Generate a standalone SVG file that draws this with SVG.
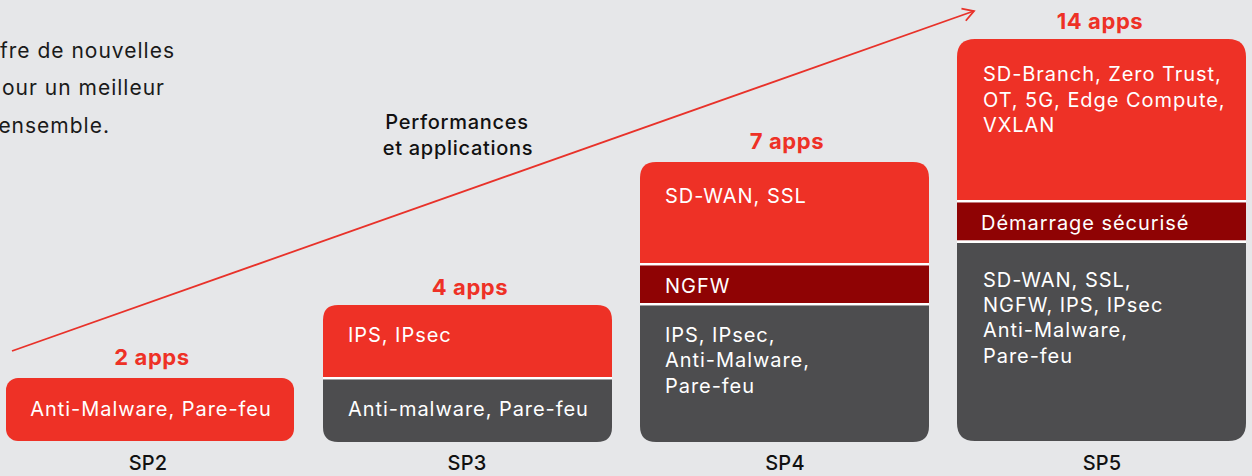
<svg xmlns="http://www.w3.org/2000/svg" width="1252" height="476" viewBox="0 0 1252 476">
<defs>
<style>
.bg{fill:#e6e7e9}
.red{fill:#ee3126}
.dred{fill:#8f0304}
.grey{fill:#4d4d4f}
.sep{fill:#ffffff}
.t{font-family:Inter,"Liberation Sans",sans-serif;font-size:20px;letter-spacing:0.95px;fill:#ffffff}
.apps{font-family:Inter,"Liberation Sans",sans-serif;font-size:22px;letter-spacing:0.6px;font-weight:700;fill:#ee3126;text-anchor:middle}
.sp{font-family:Inter,"Liberation Sans",sans-serif;font-size:20px;letter-spacing:0.2px;font-weight:500;fill:#111111;text-anchor:middle}
.intro{font-family:Inter,"Liberation Sans",sans-serif;font-size:21px;letter-spacing:1px;fill:#1a1a1a;text-anchor:end}
.lbl{font-family:Inter,"Liberation Sans",sans-serif;font-size:20px;letter-spacing:0.7px;font-weight:500;fill:#111111;text-anchor:middle}
.conn{stroke:#e8322a;stroke-width:1.8;fill:none}
</style>
<marker id="chev" markerUnits="userSpaceOnUse" markerWidth="16" markerHeight="16" refX="13" refY="8" orient="auto">
<path d="M2,1.5 L13,8 L2,14.5" fill="none" stroke="#e8322a" stroke-width="1.8"/>
</marker>
</defs>
<rect class="bg" x="0" y="0" width="1252" height="476"/>

<g id="intro-text">
<text class="intro" x="175" y="58">fre de nouvelles</text>
<text class="intro" x="165" y="95">our un meilleur</text>
<text class="intro" x="110" y="133">ensemble.</text>
</g>

<g id="connectors">
<line class="conn" x1="12" y1="351" x2="974" y2="11" marker-end="url(#chev)"/>
</g>

<g id="axis-label">
<text class="lbl" x="457" y="129">Performances</text>
<text class="lbl" x="458" y="155">et applications</text>
</g>

<g id="sp2">
<rect class="red" x="6" y="378" width="288" height="63" rx="12"/>
<text class="t" x="151" y="416" text-anchor="middle">Anti-Malware, Pare-feu</text>
<text class="apps" x="152" y="365">2 apps</text>
<text class="sp" x="148" y="470">SP2</text>
</g>

<g id="sp3">
<path class="red" d="M323,378 V320 Q323,305 338,305 H597 Q612,305 612,320 V378 Z"/>
<rect class="sep" x="323" y="377" width="289" height="2.5"/>
<path class="grey" d="M323,379.5 H612 V427 Q612,442 597,442 H338 Q323,442 323,427 Z"/>
<text class="t" x="348" y="342">IPS, IPsec</text>
<text class="t" x="348" y="416">Anti-malware, Pare-feu</text>
<text class="apps" x="470" y="295">4 apps</text>
<text class="sp" x="467" y="470">SP3</text>
</g>

<g id="sp4">
<path class="red" d="M640,263 V178 Q640,162 656,162 H913 Q929,162 929,178 V263 Z"/>
<rect class="sep" x="640" y="263" width="289" height="2.5"/>
<rect class="dred" x="640" y="265.5" width="289" height="37.5"/>
<rect class="sep" x="640" y="303" width="289" height="2.5"/>
<path class="grey" d="M640,305.5 H929 V426 Q929,442 913,442 H656 Q640,442 640,426 Z"/>
<text class="t" x="665" y="203">SD-WAN, SSL</text>
<text class="t" x="665" y="293">NGFW</text>
<text class="t" x="665" y="342">IPS, IPsec,</text>
<text class="t" x="665" y="367">Anti-Malware,</text>
<text class="t" x="665" y="393">Pare-feu</text>
<text class="apps" x="787" y="149">7 apps</text>
<text class="sp" x="785" y="470">SP4</text>
</g>

<g id="sp5">
<path class="red" d="M957,200 V57 Q957,39 975,39 H1228 Q1246,39 1246,57 V200 Z"/>
<rect class="sep" x="957" y="200" width="289" height="2.5"/>
<rect class="dred" x="957" y="202.5" width="289" height="38"/>
<rect class="sep" x="957" y="240.5" width="289" height="2.5"/>
<path class="grey" d="M957,243 H1246 V423 Q1246,441 1228,441 H975 Q957,441 957,423 Z"/>
<text class="t" x="983" y="81">SD-Branch, Zero Trust,</text>
<text class="t" x="983" y="107">OT, 5G, Edge Compute,</text>
<text class="t" x="983" y="132">VXLAN</text>
<text class="t" x="981" y="230">Démarrage sécurisé</text>
<text class="t" x="983" y="287">SD-WAN, SSL,</text>
<text class="t" x="983" y="312">NGFW, IPS, IPsec</text>
<text class="t" x="983" y="337">Anti-Malware,</text>
<text class="t" x="983" y="363">Pare-feu</text>
<text class="apps" x="1100" y="29">14 apps</text>
<text class="sp" x="1102" y="470">SP5</text>
</g>
</svg>
